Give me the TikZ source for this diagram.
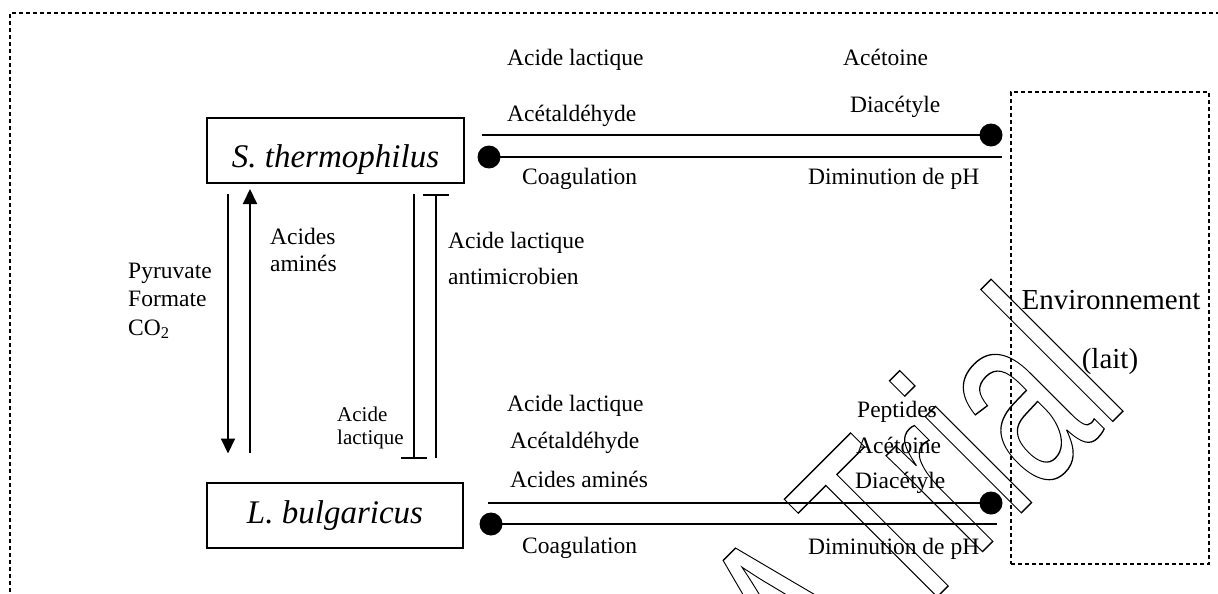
\documentclass[tikz,border=0pt]{standalone}
\usepackage{fontspec}
\setmainfont{Liberation Serif}
\newfontfamily\wmfont{Liberation Sans}
\usetikzlibrary{arrows.meta,calc}
\begin{document}
\begin{tikzpicture}[x=1pt,y=-1pt,
  txt/.style={inner sep=0pt, anchor=base west, font=\fontsize{23.5}{28}\selectfont},
  smalltxt/.style={inner sep=0pt, anchor=base west, font=\fontsize{21}{25}\selectfont},
  envtxt/.style={inner sep=0pt, anchor=base, font=\fontsize{29}{34}\selectfont},
  bact/.style={draw, line width=2pt, minimum width=257pt, minimum height=65pt, inner sep=0pt, text depth=0pt, font=\fontsize{33}{40}\selectfont\itshape},
  envbox/.style={draw, line width=1.5pt, dash pattern=on 4pt off 3pt, minimum width=198pt, minimum height=472pt, inner sep=0pt},
  frame/.style={line width=2.4pt, dash pattern=on 4pt off 3pt},
  dot/.style={circle, fill=black, inner sep=0pt, minimum size=23pt},
  conn/.style={line width=2pt},
  arr/.style={line width=2pt, -{Triangle[length=15pt,width=14pt]}},
  inh/.style={line width=2pt, -{Bar[width=26pt]}},
]
\useasboundingbox (0,0) rectangle (1218,594);
% outer frame
\coordinate (f1) at (10,620);
\coordinate (f2) at (10,13);
\coordinate (f3) at (1240,13);
\draw[frame] (f1) -- (f2) -- (f3);

% bacteria boxes
\node[bact, text height=33pt] (S) at (335.5,150.5) {S. thermophilus};
\node[bact, text height=16pt, minimum width=256pt] (L) at (335,515) {L. bulgaricus};

% environment
\node[envbox] (E) at (1110,328) {};
\node[envtxt] (e1) at (1111,309) {Environnement};
\node[envtxt] (e2) at (1110,368) {(lait)};

% top connectors
\coordinate (a1) at (482,135);
\node[dot] (d1) at (991,135) {};
\node[dot] (d2) at (489,157) {};
\coordinate (a2) at (1002,157);
\draw[conn] (a1) -- (d1.center);
\draw[conn] (d2.center) -- (a2);

% bottom connectors
\coordinate (b1) at (488,503);
\node[dot] (d3) at (991,503) {};
\node[dot] (d4) at (491,524) {};
\coordinate (b2) at (997,524);
\draw[conn] (b1) -- (d3.center);
\draw[conn] (d4.center) -- (b2);

% vertical arrows
\draw[arr] ($(S.south west)+(22,10)$) -- ($(L.north west)+(22,-28)$);
\draw[arr] ($(L.north west)+(44,-29)$) -- ($(S.south west)+(44,5)$);
\draw[inh] ($(S.south west)+(208,10)$) -- ($(L.north west)+(208,-23)$);
\draw[inh] ($(L.north west)+(230,-24)$) -- ($(S.south west)+(230,10)$);

% top texts
\node[txt] (t1) at (507,66) {Acide lactique};
\node[txt] (t2) at (507,121) {Acétaldéhyde};
\node[txt] (t3) at (522,184) {Coagulation};
\node[txt] (t4) at (843,66) {Acétoine};
\node[txt] (t5) at (850,112) {Diacétyle};
\node[txt] (t6) at (808,184) {Diminution de pH};

% middle texts
\node[txt] (p1) at (128,278) {Pyruvate};
\node[txt] (p2) at (128,306) {Formate};
\node[txt] (p3) at (128,335) {CO\textsubscript{2}};
\node[txt] (m1) at (270,244) {Acides};
\node[txt] (m2) at (270,271) {aminés};
\node[txt] (x1) at (448,248) {Acide lactique};
\node[txt] (x2) at (448,284) {antimicrobien};
\node[smalltxt] (s1) at (337,421) {Acide};
\node[smalltxt] (s2) at (337,444) {lactique};

% bottom texts
\node[txt] (u1) at (507,411) {Acide lactique};
\node[txt] (u2) at (510,448) {Acétaldéhyde};
\node[txt] (u3) at (510,487) {Acides aminés};
\node[txt] (u4) at (522,553) {Coagulation};
\node[txt] (v1) at (857,417) {Peptides};
\node[txt] (v2) at (856,453) {Acétoine};
\node[txt] (v3) at (855,488) {Diacétyle};
\node[txt] (v4) at (808,554) {Diminution de pH};

% watermark (outlined)
\node[inner sep=0pt, anchor=base west, rotate=45, yscale=1.55, transform shape,
      font=\wmfont\fontsize{166}{170}\selectfont] (wm) at (815,719)
  {\special{pdf:literal direct 1 Tr 0.9 w}A\kern19pt Trial\special{pdf:literal direct 0 Tr}};
\end{tikzpicture}
\end{document}
